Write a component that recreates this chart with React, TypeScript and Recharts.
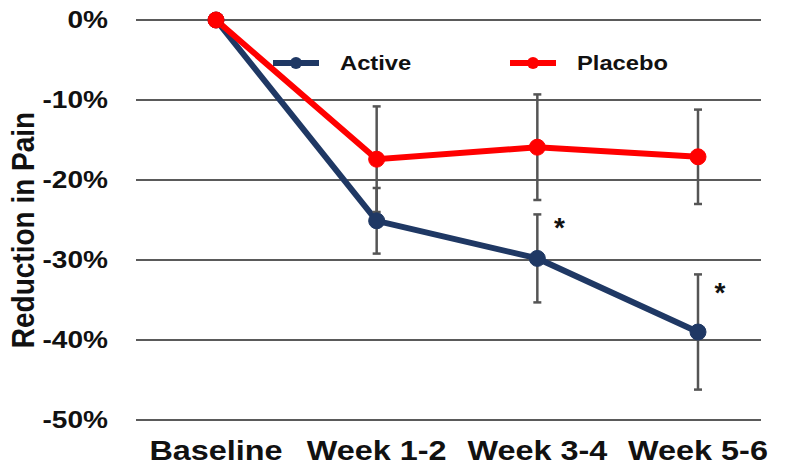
import { CartesianGrid, ErrorBar, LabelList, Legend, Line, LineChart, XAxis, YAxis } from "recharts";

const categories = ["Baseline", "Week 1-2", "Week 3-4", "Week 5-6"];
const active = [0, -25.1, -29.8, -39.0];
const activeErr = [0, 4.1, 5.5, 7.2];
const placebo = [0, -17.4, -15.9, -17.1];
const placeboErr = [0, 6.6, 6.6, 5.9];
// asterisks marking significance, and where they sit on the y scale
const sigMarks = ["", "", "*", "*"];
const sigLevel = [null, null, -25.3, -33.4];
const yTicks = [0, -10, -20, -30, -40, -50];

const FONT = '"Liberation Sans", Arial, sans-serif';
const NAVY = "#1f3864";
const RED = "#ff0000";

const data = categories.map((name, i) => ({
  name,
  active: active[i],
  activeErr: activeErr[i],
  placebo: placebo[i],
  placeboErr: placeboErr[i],
  sig: sigLevel[i],
}));

function YTick({ x, y, payload }: any) {
  return (
    <text
      transform={`translate(${x},${y + 8}) scale(1.22,1)`}
      textAnchor="end"
      fontFamily={FONT}
      fontWeight="bold"
      fontSize={23}
      fill="#111"
    >
      {payload.value}%
    </text>
  );
}

function XTick({ x, y, payload }: any) {
  return (
    <text
      transform={`translate(${x},${y + 38}) scale(1.2,1)`}
      textAnchor="middle"
      fontFamily={FONT}
      fontWeight="bold"
      fontSize={27}
      fill="#111"
    >
      {payload.value}
    </text>
  );
}

function SigLabel({ x, y, index }: any) {
  const mark = sigMarks[index];
  if (!mark || y == null) return null;
  return (
    <text x={x + 22} y={y + 15} textAnchor="middle" fontFamily={FONT} fontWeight="bold" fontSize={28} fill="#111">
      {mark}
    </text>
  );
}

function LegendContent({ payload }: any) {
  const items = (payload || []).filter((item: any) => item.type !== "none");
  return (
    <div style={{ display: "flex" }}>
      {items.map((item: any) => (
        <div key={item.value} style={{ width: 237, display: "flex", alignItems: "center" }}>
          <svg width={48} height={16} style={{ marginRight: 20 }}>
            <line x1={1} y1={8} x2={47} y2={8} stroke={item.color} strokeWidth={6} />
            <circle cx={24} cy={8} r={6} fill={item.color} />
          </svg>
          <span
            style={{
              fontFamily: FONT,
              fontWeight: "bold",
              fontSize: 21,
              color: "#111",
              display: "inline-block",
              transform: "scaleX(1.13)",
              transformOrigin: "left center",
            }}
          >
            {item.value}
          </span>
        </div>
      ))}
    </div>
  );
}

export default function App() {
  return (
    <div style={{ position: "absolute", left: 0, top: 0, background: "#fff" }}>
      <LineChart width={800} height={465} data={data} margin={{ top: 20, right: 39, bottom: 0, left: 0 }}>
        <CartesianGrid vertical={false} stroke="#5a5a5a" strokeWidth={2} />
        <XAxis
          dataKey="name"
          height={45}
          axisLine={false}
          tickLine={false}
          tickSize={0}
          tick={<XTick />}
          padding={{ left: 80, right: 63 }}
        />
        <YAxis
          width={136}
          domain={[-50, 0]}
          ticks={yTicks}
          axisLine={false}
          tickLine={false}
          tickSize={0}
          tickMargin={28}
          tick={<YTick />}
          label={{
            value: "Reduction in Pain",
            content: () => (
              <text
                transform="translate(23,230) scale(1.15,1) rotate(-90)"
                textAnchor="middle"
                dominantBaseline="central"
                fontFamily={FONT}
                fontWeight="bold"
                fontSize={28}
                fill="#111"
              >
                Reduction in Pain
              </text>
            ),
          }}
        />
        <Legend
          verticalAlign="middle"
          layout="horizontal"
          width={500}
          content={<LegendContent />}
          wrapperStyle={{ top: 51, left: 272 }}
        />
        <Line
          dataKey="active"
          name="Active"
          stroke={NAVY}
          strokeWidth={6}
          dot={{ r: 8, fill: NAVY, stroke: NAVY, strokeWidth: 1 }}
          isAnimationActive={false}
        >
          <ErrorBar dataKey="activeErr" direction="y" width={4} stroke="#555" strokeWidth={2.5} />
        </Line>
        <Line
          dataKey="placebo"
          name="Placebo"
          stroke={RED}
          strokeWidth={6}
          dot={{ r: 8, fill: RED, stroke: RED, strokeWidth: 1 }}
          isAnimationActive={false}
        >
          <ErrorBar dataKey="placeboErr" direction="y" width={4} stroke="#555" strokeWidth={2.5} />
        </Line>
        <Line
          dataKey="sig"
          stroke="none"
          dot={false}
          activeDot={false}
          legendType="none"
          isAnimationActive={false}
        >
          <LabelList dataKey="sig" content={<SigLabel />} />
        </Line>
      </LineChart>
    </div>
  );
}
